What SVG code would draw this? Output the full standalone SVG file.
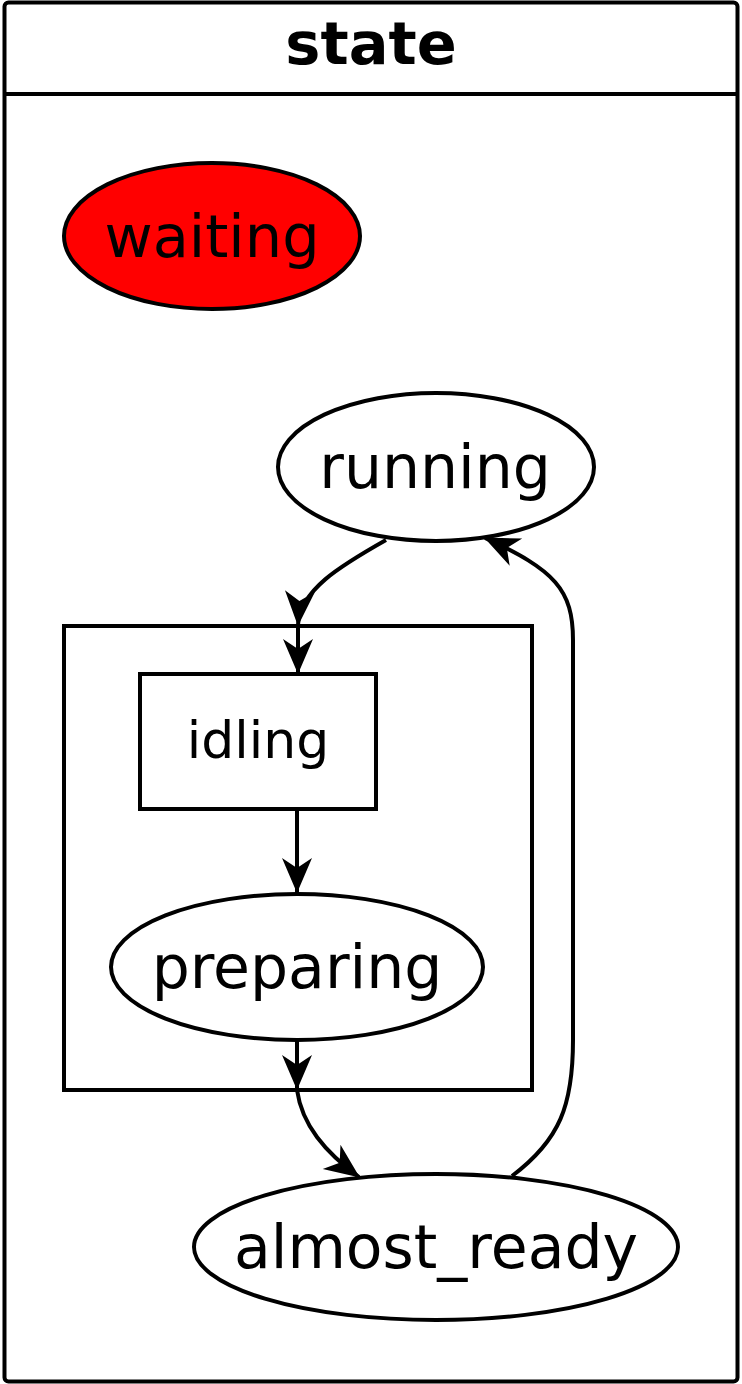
<svg xmlns="http://www.w3.org/2000/svg" width="742" height="1384" viewBox="0 0 742 1384">
<style>
.shape{fill:#fff;stroke:#000;stroke-width:4}
.lbl{font-family:"DejaVu Sans",sans-serif;font-size:60px;text-anchor:middle;fill:#000}
.edge{fill:none;stroke:#000;stroke-width:4}
</style>
<defs>
<marker id="arr" markerUnits="userSpaceOnUse" markerWidth="40" markerHeight="40" refX="36" refY="20" orient="auto" overflow="visible">
<path d="M37,20 L2,5 L12,20 L2,35 Z" fill="#000"/>
</marker>
</defs>
<g id="frame">
<rect x="4.5" y="2.5" width="733" height="1379" rx="4" class="shape"/>
<line x1="4.5" y1="94" x2="737.5" y2="94" stroke="#000" stroke-width="4"/>
<text x="371" y="64" font-family="DejaVu Sans,sans-serif" font-weight="bold" font-size="59" text-anchor="middle">state</text>
</g>
<g id="waiting">
<ellipse cx="212" cy="236" rx="148" ry="73" class="shape" style="fill:#ff0000"/>
<text x="212" y="257" class="lbl" style="font-size:59px">waiting</text>
</g>
<g id="running">
<ellipse cx="436" cy="467" rx="158" ry="74" class="shape"/>
<text x="435" y="488" class="lbl">running</text>
</g>
<g id="group">
<rect x="64" y="626" width="468" height="464" class="shape" style="fill:none"/>
</g>
<g id="idling">
<rect x="140" y="674" width="236" height="135" class="shape"/>
<text x="258" y="758" class="lbl" style="font-size:52px">idling</text>
</g>
<g id="preparing">
<ellipse cx="297" cy="967" rx="186" ry="73" class="shape"/>
<text x="297" y="988" class="lbl">preparing</text>
</g>
<g id="almost_ready">
<ellipse cx="436" cy="1247" rx="242" ry="73" class="shape"/>
<text x="436" y="1268" class="lbl">almost_ready</text>
</g>
<g id="connectors">
<path class="edge" d="M386,540 C340,566 300,590 298,625" marker-end="url(#arr)"/>
<path class="edge" d="M298,626 L298,673" marker-end="url(#arr)"/>
<path class="edge" d="M297,809 L297,892" marker-end="url(#arr)"/>
<path class="edge" d="M297,1040 L297,1089" marker-end="url(#arr)"/>
<path class="edge" d="M297,1090 C302,1125 325,1152 359,1177" marker-end="url(#arr)"/>
<path class="edge" d="M512,1176 C560,1140 573,1105 573,1040 L573,640 C573,590 555,570 485,538" marker-end="url(#arr)"/>
</g>
</svg>
